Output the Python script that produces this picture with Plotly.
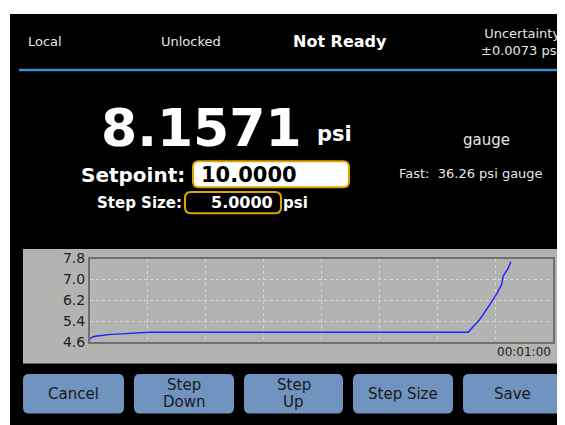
import plotly.graph_objects as go

# trace data (seconds, psi)
time_s = [0.0, 0.4, 0.9, 1.7, 2.7, 4.0, 5.5, 7.4, 7.6, 20.0, 35.0, 49.0,
          50.5, 51.4, 52.05, 52.7, 53.35, 53.55, 54.0, 54.2, 54.55]
pressure = [4.74, 4.81, 4.84, 4.87, 4.90, 4.92, 4.95, 4.96, 4.98, 4.98, 4.98, 4.98,
            5.47, 5.84, 6.14, 6.45, 6.81, 7.13, 7.31, 7.43, 7.68]

y_ticks = [4.6, 5.4, 6.2, 7.0, 7.8]
x_grid = [7.5, 15, 22.5, 30, 37.5, 45, 52.5]
time_label = "00:01:00"

header_labels = ["Local", "Unlocked"]
status_label = "Not Ready"
uncertainty_label = "Uncertainty<br>±0.0073 psi"
reading = "8.1571"
unit = "psi"
setpoint = "10.0000"
step_size = "5.0000"
mode_label = "gauge"
fast_label = "Fast:\u00a0 36.26 psi gauge"
button_labels = ["Cancel", "Step<br>Down", "Step<br>Up", "Step Size", "Save"]

# the page puts the figure 8px in from the top left corner
OFF = 8
W, H = 565, 425
FONT = "DejaVu Sans"


# screen pixel -> paper
def X(x):
    return (x - OFF) / W


def Y(y):
    return 1 - (y - OFF) / H


def rounded(x0, y0, x1, y1, r):
    return (f"M {X(x0 + r)},{Y(y0)} L {X(x1 - r)},{Y(y0)} "
            f"Q {X(x1)},{Y(y0)} {X(x1)},{Y(y0 + r)} L {X(x1)},{Y(y1 - r)} "
            f"Q {X(x1)},{Y(y1)} {X(x1 - r)},{Y(y1)} L {X(x0 + r)},{Y(y1)} "
            f"Q {X(x0)},{Y(y1)} {X(x0)},{Y(y1 - r)} L {X(x0)},{Y(y0 + r)} "
            f"Q {X(x0)},{Y(y0)} {X(x0 + r)},{Y(y0)} Z")


fig = go.Figure()
fig.add_trace(go.Scatter(x=time_s, y=pressure, mode="lines",
                         line=dict(color="#2222ff", width=1.4),
                         hoverinfo="skip", showlegend=False))

shapes = [
    # black screen
    dict(type="rect", xref="paper", yref="paper", x0=X(10), x1=X(600), y0=Y(460), y1=Y(6),
         fillcolor="black", line_width=0, layer="below"),
    # header separator
    dict(type="line", xref="paper", yref="paper", x0=X(19), x1=X(600), y0=Y(64), y1=Y(64),
         line=dict(color="#3a8fd8", width=2.5)),
    # graph panel
    dict(type="rect", xref="paper", yref="paper", x0=X(23), x1=X(563), y0=Y(369), y1=Y(250),
         fillcolor="#b3b3b1", line_width=0, layer="below"),
    # setpoint box
    dict(type="path", xref="paper", yref="paper", path=rounded(193, 159, 349, 186, 6),
         fillcolor="white", line=dict(color="#e3a400", width=2)),
    # step size box
    dict(type="path", xref="paper", yref="paper", path=rounded(185, 191, 281, 213, 6),
         fillcolor="black", line=dict(color="#e3a400", width=2)),
]

ann = []


def text(s, x, y, size, color="#e6e6e6", bold=False, xanchor="left", align="left"):
    ann.append(dict(text=f"<b>{s}</b>" if bold else s, xref="paper", yref="paper",
                    x=X(x), y=Y(y), xanchor=xanchor, yanchor="middle", align=align,
                    showarrow=False, font=dict(family=FONT, size=size, color=color)))


text(header_labels[0], 26, 34, 13)
text(header_labels[1], 159, 34, 13)
text(status_label, 291, 35, 16, color="white", bold=True)
text(uncertainty_label, 562, 35, 13, xanchor="right", align="right")

text(reading, 99, 124, 52, color="white", bold=True)
text(unit, 315, 131, 21, color="white", bold=True)
text("Setpoint:", 187, 173, 20, color="white", bold=True, xanchor="right")
text(setpoint, 199, 173, 21, color="black", bold=True)
text("Step Size:", 184, 202, 15, color="white", bold=True, xanchor="right")
text(step_size, 275, 202, 16, color="white", bold=True, xanchor="right")
text(unit, 281, 202, 15, color="white", bold=True)
text(mode_label, 486, 137, 15, xanchor="center")
text(fast_label, 471, 172, 13, xanchor="center")
text(time_label, 553, 357, 12, color="#1e1e1e", xanchor="right")

# soft keys
btn_x = [(23, 124), (134, 234), (244, 343), (353, 453), (463, 563)]
for (bx0, bx1), lab in zip(btn_x, button_labels):
    shapes.append(dict(type="path", xref="paper", yref="paper", path=rounded(bx0, 380, bx1, 421, 6),
                       fillcolor="#7093bf", line_width=0))
    lines = lab.split("<br>")
    if len(lines) == 1:
        text(lab, (bx0 + bx1) / 2, 400.5, 15, color="#1a1a1a", xanchor="center")
    else:
        text(lines[0], (bx0 + bx1) / 2, 391.5, 15, color="#1a1a1a", xanchor="center")
        text(lines[1], (bx0 + bx1) / 2, 409, 15, color="#1a1a1a", xanchor="center")

fig.update_layout(
    width=W, height=H, autosize=False,
    margin=dict(l=0, r=0, t=0, b=0, pad=0),
    paper_bgcolor="white", plot_bgcolor="#b3b3b1",
    shapes=shapes, annotations=ann,
    font=dict(family=FONT),
    xaxis=dict(domain=[X(90), X(553)], range=[0, 60], tickvals=x_grid, showticklabels=False,
               ticks="", showgrid=True, gridcolor="#d6d6d6", griddash="dot", gridwidth=1,
               zeroline=False, showline=True, mirror=True, linecolor="#6e6e6e", linewidth=2),
    yaxis=dict(domain=[Y(347), Y(260)], range=[4.6, 7.8], tickvals=y_ticks,
               ticktext=[f"{v:.1f}" for v in y_ticks], ticks="",
               tickfont=dict(family=FONT, size=14, color="#1e1e1e"),
               showgrid=True, gridcolor="#d6d6d6", griddash="dot", gridwidth=1,
               zeroline=False, showline=True, mirror=True, linecolor="#6e6e6e", linewidth=2),
)

fig.write_html("out.html")
